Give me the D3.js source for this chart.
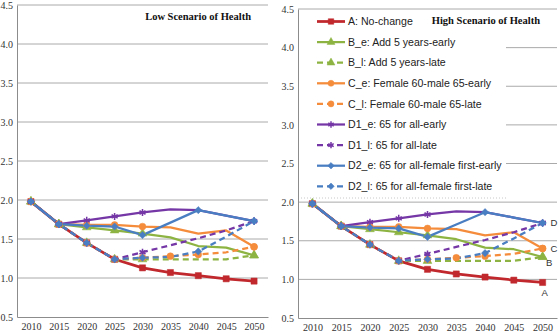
<!DOCTYPE html>
<html>
<head>
<meta charset="utf-8">
<script src="https://cdn.jsdelivr.net/npm/d3@7"></script>
<style>
  body { margin: 0; background: #fff; }
  svg { display: block; }
</style>
</head>
<body>
<div id="chart"></div>
<script>
// data (both panels show the same curves)
let years = [2010, 2015, 2020, 2025, 2030, 2035, 2040, 2045, 2050];
let yTicks = [0.5, 1.0, 1.5, 2.0, 2.5, 3.0, 3.5, 4.0, 4.5];

let seriesA   = [1.98, 1.69, 1.45, 1.24, 1.13, 1.07, 1.03, 0.99, 0.96];
let seriesBe  = [1.98, 1.69, 1.65, 1.61, 1.57, 1.52, 1.41, 1.39, 1.29];
let seriesBl  = [1.98, 1.69, 1.45, 1.24, 1.24, 1.24, 1.24, 1.24, 1.29];
let seriesCe  = [1.98, 1.69, 1.68, 1.68, 1.66, 1.65, 1.57, 1.61, 1.40];
let seriesCl  = [1.98, 1.69, 1.45, 1.24, 1.26, 1.28, 1.30, 1.33, 1.40];
let seriesD1e = [1.98, 1.69, 1.74, 1.79, 1.84, 1.88, 1.87, 1.80, 1.73];
let seriesD1l = [1.98, 1.69, 1.45, 1.24, 1.33, 1.42, 1.51, 1.61, 1.73];
let seriesD2e = [1.98, 1.69, 1.67, 1.66, 1.55, 1.71, 1.87, 1.80, 1.73];
let seriesD2l = [1.98, 1.69, 1.45, 1.24, 1.26, 1.27, 1.34, 1.53, 1.73];

// years where a marker is drawn on each curve
let marksAll   = years;
let marksEarly = [2010, 2015, 2020, 2025, 2030, 2050];
let marksCl    = [2010, 2015, 2020, 2025, 2030, 2035, 2040, 2050];
let marksD2    = [2010, 2015, 2020, 2025, 2030, 2040, 2050];

let seriesNames = [
  "A: No-change",
  "B_e: Add 5 years-early",
  "B_l: Add 5 years-late",
  "C_e: Female 60-male 65-early",
  "C_l: Female 60-male 65-late",
  "D1_e: 65 for all-early",
  "D1_l: 65 for all-late",
  "D2_e: 65 for all-female first-early",
  "D2_l: 65 for all-female first-late"
];
let endLabels = ["A", "B", "C", "D"];
let endLabelValues = [0.96, 1.29, 1.40, 1.73];

let red = "#c0282d", green = "#8db443", orange = "#f48c3c", purple = "#7537a6", blue = "#4a7ec2";

let series = [
  { name: seriesNames[0], values: seriesA,   color: red,    dash: null,  shape: "square",   marks: marksAll,   width: 2.75 },
  { name: seriesNames[1], values: seriesBe,  color: green,  dash: null,  shape: "triangle", marks: marksEarly, width: 2.25 },
  { name: seriesNames[2], values: seriesBl,  color: green,  dash: "6,4", shape: "triangle", marks: marksEarly, width: 2.25 },
  { name: seriesNames[3], values: seriesCe,  color: orange, dash: null,  shape: "circle",   marks: marksEarly, width: 2.25 },
  { name: seriesNames[4], values: seriesCl,  color: orange, dash: "6,4", shape: "circle",   marks: marksCl,    width: 2.25 },
  { name: seriesNames[5], values: seriesD1e, color: purple, dash: null,  shape: "star",     marks: marksEarly, width: 2.25 },
  { name: seriesNames[6], values: seriesD1l, color: purple, dash: "6,4", shape: "star",     marks: marksEarly, width: 2.25 },
  { name: seriesNames[7], values: seriesD2e, color: blue,   dash: null,  shape: "diamond",  marks: marksD2,    width: 2.25 },
  { name: seriesNames[8], values: seriesD2l, color: blue,   dash: "6,4", shape: "diamond",  marks: marksD2,    width: 2.25 }
];

let w = 559;
let h = 334;

let svg = d3.select("#chart").append("svg")
  .attr("width", w)
  .attr("height", h);

let serif = "'Liberation Serif', 'Times New Roman', serif";
let sans = "'Liberation Sans', Arial, sans-serif";

function symbolFor(shape, scale) {
  let types = {
    square: [d3.symbolSquare, 38],
    triangle: [d3.symbolTriangle, 34],
    circle: [d3.symbolCircle, 36],
    star: [d3.symbolAsterisk || d3.symbolCross, 34],
    diamond: [d3.symbolSquare, 26]
  };
  let t = types[shape];
  return d3.symbol().type(t[0]).size(t[1] * scale)();
}

function drawMarker(g, s, x, y, scale) {
  let rot = s.shape == "diamond" ? " rotate(45)" : "";
  let p = g.append("path")
    .attr("d", symbolFor(s.shape, scale))
    .attr("transform", "translate(" + x + "," + y + ")" + rot);
  if (s.shape == "star") {
    p.attr("fill", "none").attr("stroke", s.color).attr("stroke-width", 1.5);
  } else {
    p.attr("fill", s.color).attr("stroke", s.color).attr("stroke-width", 0.5);
  }
}

function drawPanel(left, right, top, bottom, title, titleRight, withLegend) {
  let g = svg.append("g");

  let xScale = d3.scalePoint().domain(years).range([left, right]).padding(0.5);
  let yScale = d3.scaleLinear().domain([0.5, 4.5]).range([bottom, top]);

  // gridlines
  g.selectAll(".grid").data(yTicks.slice(1)).enter()
    .append("line")
      .attr("x1", left).attr("x2", right)
      .attr("y1", d => yScale(d)).attr("y2", d => yScale(d))
      .attr("stroke", "#aaaaaa")
      .attr("stroke-width", 1);

  if (withLegend) {
    // legend box hides the grid behind it
    g.append("rect")
      .attr("x", left + 1).attr("y", yScale(4.5) + 2)
      .attr("width", 207).attr("height", 187)
      .attr("fill", "#fff");
    g.append("line")
      .attr("x1", left).attr("x2", left + 208)
      .attr("y1", yScale(4.5) + 189).attr("y2", yScale(4.5) + 189)
      .attr("stroke", "#c8c8c8")
      .attr("stroke-dasharray", "1,2");
  }

  // axes
  let yAxis = d3.axisLeft(yScale).tickValues(yTicks).tickFormat(d3.format(".1f")).tickSize(0).tickPadding(4);
  let yAxisGroup = g.append("g").attr("transform", "translate(" + left + ",0)").call(yAxis);
  yAxisGroup.attr("font-family", serif).attr("font-size", 10);
  yAxisGroup.select(".domain").attr("stroke", "#8c8c8c");
  yAxisGroup.selectAll("text").attr("fill", "#333");

  let xAxis = d3.axisBottom(xScale).tickSize(0).tickPadding(6);
  let xAxisGroup = g.append("g").attr("transform", "translate(0," + bottom + ")").call(xAxis);
  xAxisGroup.attr("font-family", serif).attr("font-size", 10);
  xAxisGroup.select(".domain").attr("stroke", "#8c8c8c");
  xAxisGroup.selectAll("text").attr("fill", "#333");

  // lines
  let lineMaker = d3.line()
    .x((d, i) => xScale(years[i]))
    .y(d => yScale(d));

  series.forEach(s => {
    g.append("path")
      .attr("d", lineMaker(s.values))
      .attr("fill", "none")
      .attr("stroke", s.color)
      .attr("stroke-width", s.width)
      .attr("stroke-dasharray", s.dash)
      .attr("stroke-linejoin", "round");
  });

  // markers
  series.forEach(s => {
    s.marks.forEach(yr => {
      let i = years.indexOf(yr);
      drawMarker(g, s, xScale(yr), yScale(s.values[i]), 1);
    });
  });

  g.append("text")
    .attr("x", titleRight)
    .attr("y", top + 15)
    .attr("text-anchor", "end")
    .attr("font-family", serif)
    .attr("font-weight", "bold")
    .attr("font-size", 10.5)
    .attr("fill", "#111")
    .text(title);

  if (withLegend) {
    let legend = g.append("g").attr("class", "legend");
    series.forEach((s, i) => {
      let ly = top + 12.5 + i * 20.6;
      legend.append("line")
        .attr("x1", left + 19).attr("x2", left + 47)
        .attr("y1", ly).attr("y2", ly)
        .attr("stroke", s.color)
        .attr("stroke-width", s.width)
        .attr("stroke-dasharray", s.dash ? "6,4" : null);
      drawMarker(legend, s, left + 33, ly, 0.8);
      legend.append("text")
        .attr("x", left + 50)
        .attr("y", ly)
        .attr("dy", "0.35em")
        .attr("font-family", sans)
        .attr("font-size", 10.6)
        .attr("fill", "#222")
        .text(s.name);
    });

    // letters at the end of the curves
    let endX = xScale(2050);
    let offsets = [[-1, 10], [3.5, 6], [8, 0], [8, 0]];
    endLabels.forEach((lab, i) => {
      g.append("text")
        .attr("x", endX + offsets[i][0])
        .attr("y", yScale(endLabelValues[i]) + offsets[i][1])
        .attr("dy", "0.35em")
        .attr("font-family", sans)
        .attr("font-size", 9.5)
        .attr("fill", "#333")
        .text(lab);
    });
  }
}

drawPanel(17, 268, 5, 317, "Low Scenario of Health", 251, false);
drawPanel(298, 557, 9, 318, "High Scenario of Health", 540, true);
</script>
</body>
</html>
